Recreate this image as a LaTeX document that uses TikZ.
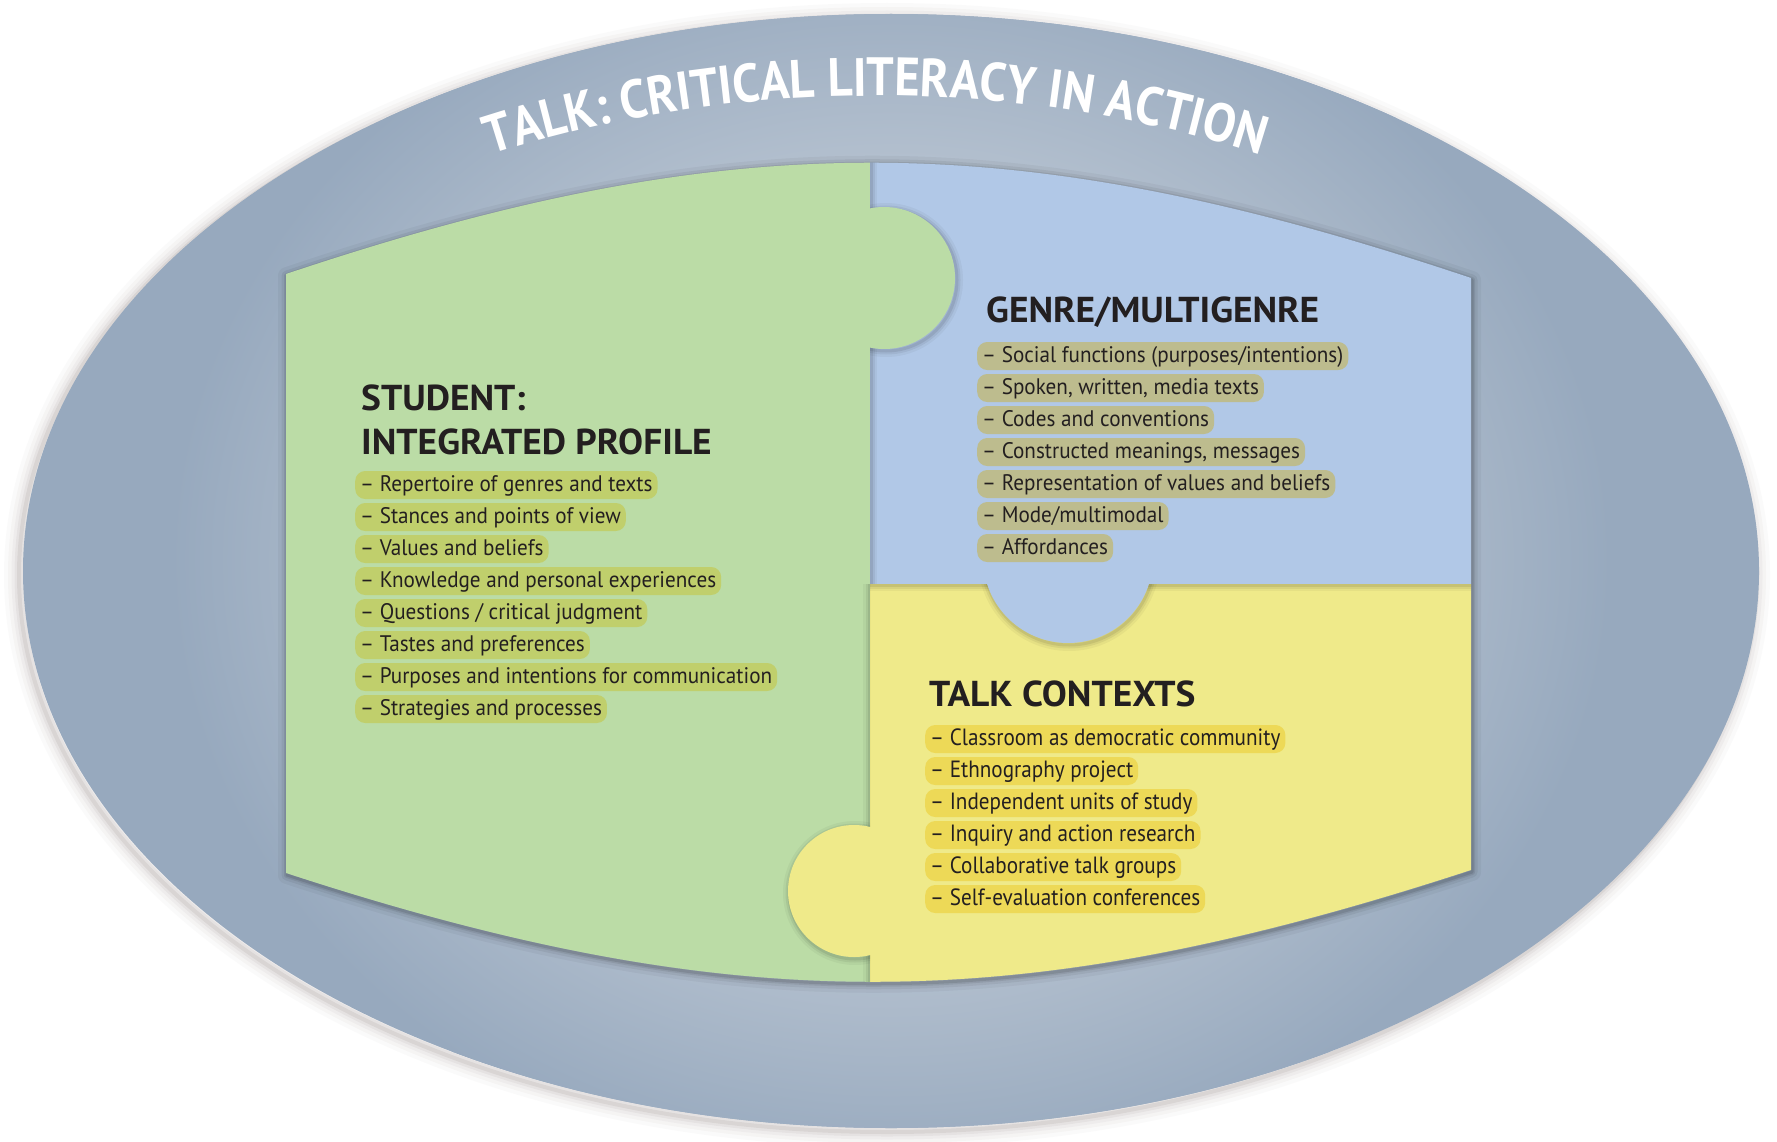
\documentclass[tikz,border=0pt]{standalone}
\usepackage{fontspec}
\setmainfont[FakeStretch=0.94]{PT Sans}
\newfontfamily\condfont[FakeStretch=0.9]{PT Sans}
\newfontfamily\headfont[FakeStretch=1.04]{PT Sans}
\newfontfamily\titlefont[FakeStretch=0.9]{PT Sans}
\newcommand\ttlfont{\titlefont\bfseries\fontsize{54pt}{56pt}\selectfont}
\usetikzlibrary{decorations.text}
\definecolor{ringout}{HTML}{97A9BE}
\definecolor{ringin}{HTML}{B6C2D0}
\definecolor{pgreen}{HTML}{BBDCA6}
\definecolor{pblue}{HTML}{B1C8E7}
\definecolor{pyellow}{HTML}{EFEA8A}
\definecolor{hgreen}{HTML}{C0CF6C}
\definecolor{hblue}{HTML}{BDBC8E}
\definecolor{hyellow}{HTML}{EDD957}
\definecolor{ink}{HTML}{231F20}
\definecolor{halo}{HTML}{6E5F5C}
\pgfdeclareradialshading{ringshade}{\pgfpoint{0bp}{0bp}}{color(0bp)=(ringin); color(15bp)=(ringin); color(25bp)=(ringout); color(50bp)=(ringout)}
\begin{document}
\begin{tikzpicture}[x=1pt, y=-1pt,
  head/.style={anchor=base west, inner sep=0pt, text=ink, font=\headfont\bfseries\fontsize{36pt}{40pt}\selectfont},
  itembox/.style={anchor=west, rounded corners=10pt, inner xsep=5pt, inner ysep=0pt, text height=17pt, text depth=5pt, minimum height=28pt, text=ink, font=\fontsize{22.5pt}{26pt}\selectfont},
  gitem/.style={itembox, fill=hgreen},
  bitem/.style={itembox, fill=hblue},
  yitem/.style={itembox, fill=hyellow, font=\condfont\fontsize{23.5pt}{26pt}\selectfont}
]
\useasboundingbox (0,0) rectangle (1777,1142);
% ring halo
\foreach \w/\o in {30/0.03, 22/0.04, 15/0.05, 9/0.07, 4/0.10}
  \draw[halo, line width=\w pt, opacity=\o] (887,575) ellipse [x radius=868, y radius=557];
% ring
\fill[ringout] (891,571) ellipse [x radius=868, y radius=557];
\begin{scope}
  \clip (891,571) ellipse [x radius=868, y radius=557];
  \shade[shading=ringshade] (891,560) ellipse [x radius=720, y radius=620];
\end{scope}
% puzzle shadow on ring
\foreach \w/\o in {18/0.04, 11/0.06, 6/0.08, 3/0.10}
  \draw[black, line width=\w pt, opacity=\o, line join=round, shift={(1,2)}]
    (286,274) .. controls (736,123) and (1021,127) .. (1471,278) -- (1471,870)
    .. controls (1021,1017) and (736,1020) .. (286,873) -- cycle;
% puzzle pieces
\begin{scope}
  \clip (286,274) .. controls (736,123) and (1021,127) .. (1471,278) -- (1471,870)
    .. controls (1021,1017) and (736,1020) .. (286,873) -- cycle;
  \fill[pgreen] (270,140) rectangle (870,1000);
  \fill[pblue] (870,140) rectangle (1490,584);
  \fill[pyellow] (870,584) rectangle (1490,1000);
  % green casts on blue
  \begin{scope}
    \clip (870,140) rectangle (1490,584);
    \foreach \w/\o in {12/0.04, 7/0.06, 3/0.08}{
      \draw[black, line width=\w pt, opacity=\o] (871,140) -- (871,584);
      \draw[black, line width=\w pt, opacity=\o] (886,280) circle [radius=71];
    }
  \end{scope}
  % blue casts on yellow
  \begin{scope}
    \clip (870,584) rectangle (1490,1000);
    \foreach \w/\o in {12/0.04, 7/0.06, 3/0.08}{
      \draw[black, line width=\w pt, opacity=\o] (870,585) -- (1490,585);
      \draw[black, line width=\w pt, opacity=\o] (1069,560) circle [radius=85];
    }
  \end{scope}
  % yellow casts on green
  \begin{scope}
    \clip (270,584) rectangle (870,1000);
    \foreach \w/\o in {12/0.04, 7/0.06, 3/0.08}{
      \draw[black, line width=\w pt, opacity=\o] (869,584) -- (869,1000);
      \draw[black, line width=\w pt, opacity=\o] (855,893) circle [radius=66];
    }
  \end{scope}
  \fill[pgreen] (884,278) circle [radius=71];
  \fill[pblue] (1068,558) circle [radius=85];
  \fill[pyellow] (854,891) circle [radius=66];
\end{scope}
% title
\begin{scope}[y=1pt]
  \path[decorate, decoration={text along path, text align=center, text color=white,
      text={|\ttlfont|TALK: CRITICAL LITERACY IN ACTION}}]
    (876,-571) ++(160:800 and 475) arc [start angle=160, end angle=20, x radius=800, y radius=475];
\end{scope}
% headings
\node[head] (hs1) at (361,410) {STUDENT:};
\node[head] (hs2) at (361,454) {INTEGRATED PROFILE};
\node[head] (hg) at (986,322) {GENRE/MULTIGENRE};
\node[head] (ht) at (929,706) {TALK CONTEXTS};
% lists
\foreach \t [count=\i] in {Repertoire of genres and texts, Stances and points of view, Values and beliefs,
    Knowledge and personal experiences, Questions / critical judgment, Tastes and preferences,
    Purposes and intentions for communication, Strategies and processes}
  \node[gitem] (g\i) at (355,{485+32*(\i-1)}) {– \t};
\foreach \t [count=\i] in {Social functions (purposes/intentions), {Spoken, written, media texts},
    Codes and conventions, {Constructed meanings, messages}, Representation of values and beliefs,
    Mode/multimodal, Affordances}
  \node[bitem] (b\i) at (977,{356+32*(\i-1)}) {– \t};
\foreach \t [count=\i] in {Classroom as democratic community, Ethnography project,
    Independent units of study, Inquiry and action research, Collaborative talk groups,
    Self-evaluation conferences}
  \node[yitem] (y\i) at (925,{739+32*(\i-1)}) {– \t};
\end{tikzpicture}
\end{document}
